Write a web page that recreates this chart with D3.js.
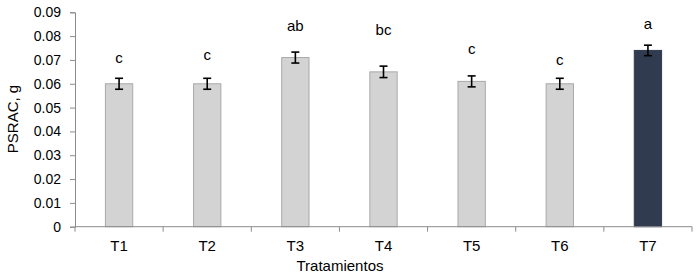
<!DOCTYPE html>
<html lang="es">
  <head>
    <meta charset="utf-8" />
    <title>PSRAC</title>
    <script src="https://cdn.jsdelivr.net/npm/d3@7"></script>
    <style>
body { margin: 0; background: white; }
svg text { font-family: "Liberation Sans", Arial, sans-serif; fill: #000; }
    </style>
  </head>
  <body>
    <script>
// data
var treatments = ["T1", "T2", "T3", "T4", "T5", "T6", "T7"];
var psrac = [0.060, 0.060, 0.071, 0.065, 0.061, 0.060, 0.074];
var errs = [0.0023, 0.0023, 0.0023, 0.0024, 0.0023, 0.0023, 0.0022];
var letters = ["c", "c", "ab", "bc", "c", "c", "a"];
var letterAt = [0.0687, 0.0700, 0.0822, 0.0805, 0.0725, 0.0679, 0.0828]; // baseline, data units
var yTicks = [0, 0.01, 0.02, 0.03, 0.04, 0.05, 0.06, 0.07, 0.08, 0.09];

var w = 697, h = 273;
var pad = { left: 75, right: 5, top: 12.3, bottom: 46.3 };

var svg = d3.select("body").append("svg")
            .attr("width", w)
            .attr("height", h);

var x = d3.scaleBand()
          .domain(treatments)
          .range([pad.left, w - pad.right])
          .paddingInner(0.69)
          .paddingOuter(0.345);
var y = d3.scaleLinear()
          .domain([0, 0.09])
          .range([h - pad.bottom, pad.top]);

// y axis
var yAxis = svg.append("g")
   .attr("transform", "translate(" + pad.left + ",0)")
   .call(d3.axisLeft(y).tickValues(yTicks).tickSize(5).tickPadding(9)
           .tickFormat(function(d) { return d === 0 ? "0" : d3.format(".2f")(d); }));
yAxis.select(".domain").attr("stroke", "#8c8c8c");
yAxis.selectAll(".tick line").attr("stroke", "#8c8c8c");
yAxis.selectAll(".tick text").attr("font-size", "14px").attr("fill", "#000");

// bars
svg.append("g").selectAll("rect")
   .data(psrac)
   .enter().append("rect")
   .attr("x", function(d, i) { return x(treatments[i]); })
   .attr("y", function(d) { return y(d); })
   .attr("width", x.bandwidth())
   .attr("height", function(d) { return y(0) - y(d); })
   .attr("fill", function(d, i) { return i === 6 ? "#303b4f" : "#d3d3d3"; })
   .attr("stroke", function(d, i) { return i === 6 ? "#303b4f" : "#a9a9a9"; })
   .attr("stroke-width", 1);

// x axis (ticks at category boundaries)
var xg = svg.append("g");
xg.append("line")
  .attr("x1", pad.left).attr("x2", w - pad.right)
  .attr("y1", y(0)).attr("y2", y(0))
  .attr("stroke", "#8c8c8c");
var step = x.step();
xg.selectAll("line.tk")
  .data(d3.range(treatments.length + 1))
  .enter().append("line")
  .attr("class", "tk")
  .attr("x1", function(i) { return pad.left + i * step; })
  .attr("x2", function(i) { return pad.left + i * step; })
  .attr("y1", y(0)).attr("y2", y(0) + 5)
  .attr("stroke", "#8c8c8c");
xg.selectAll("text")
  .data(treatments)
  .enter().append("text")
  .attr("x", function(d) { return x(d) + x.bandwidth() / 2; })
  .attr("y", y(0) + 24.5)
  .attr("text-anchor", "middle")
  .attr("font-size", "15px")
  .text(function(d) { return d; });

// error bars
var eb = svg.append("g").attr("stroke", "#000").attr("stroke-width", 1.6);
psrac.forEach(function(v, i) {
  var cx = x(treatments[i]) + x.bandwidth() / 2;
  eb.append("line").attr("x1", cx).attr("x2", cx)
    .attr("y1", y(v - errs[i])).attr("y2", y(v + errs[i]));
  [v - errs[i], v + errs[i]].forEach(function(e) {
    eb.append("line").attr("x1", cx - 4).attr("x2", cx + 4)
      .attr("y1", y(e)).attr("y2", y(e));
  });
});

// significance letters
svg.append("g").selectAll("text")
   .data(letters)
   .enter().append("text")
   .attr("x", function(d, i) { return x(treatments[i]) + x.bandwidth() / 2; })
   .attr("y", function(d, i) { return y(letterAt[i]); })
   .attr("text-anchor", "middle")
   .attr("font-size", "15px")
   .text(function(d) { return d; });

// axis titles
svg.append("text")
   .attr("transform", "translate(18,119) rotate(-90)")
   .attr("text-anchor", "middle")
   .attr("font-size", "15px")
   .text("PSRAC, g");
svg.append("text")
   .attr("x", 340)
   .attr("y", 271)
   .attr("text-anchor", "middle")
   .attr("font-size", "15px")
   .text("Tratamientos");
    </script>
  </body>
</html>
